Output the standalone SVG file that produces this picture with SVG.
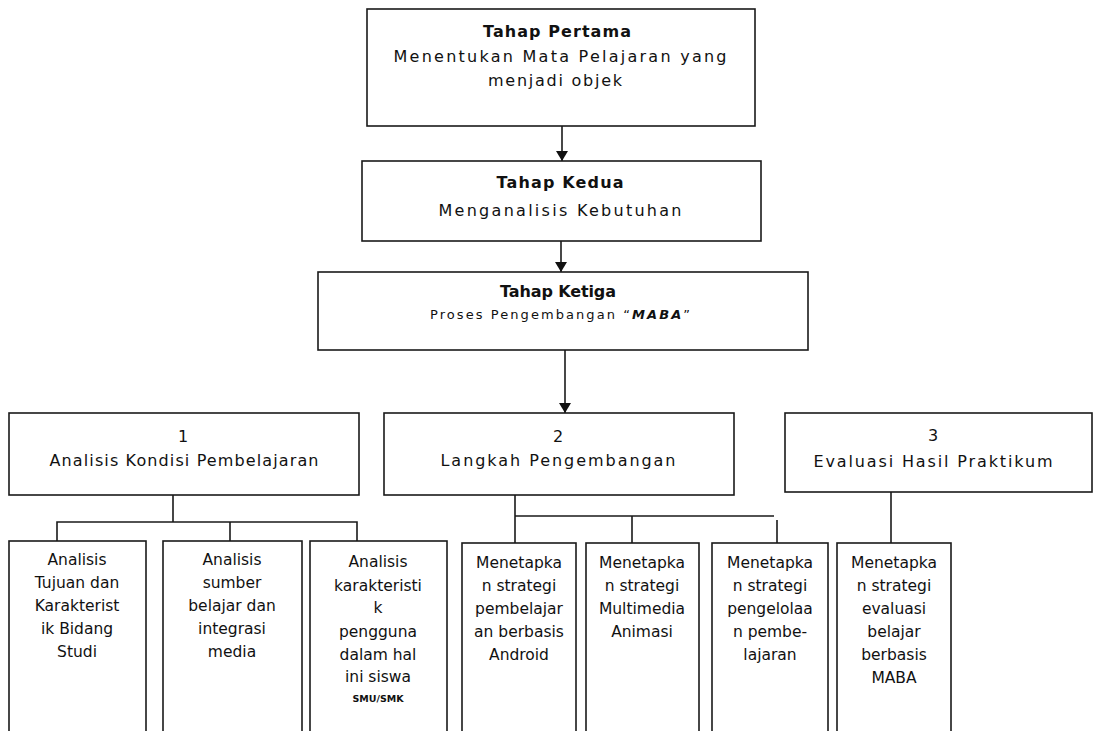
<svg xmlns="http://www.w3.org/2000/svg" width="1102" height="731" viewBox="0 0 1102 731">
<style>
.box{fill:#fff;stroke:#1a1a1a;stroke-width:1.6}
.ln{fill:none;stroke:#1a1a1a;stroke-width:1.6}
text{font-family:"DejaVu Sans","Liberation Sans",Arial,sans-serif;fill:#111;text-anchor:middle}
.h{font-size:16px;font-weight:bold}
.t{font-size:16px}
.s{font-size:13px}
.b{font-size:15.5px}
.sm{font-size:9.5px;font-weight:bold}
</style>
<defs>
<marker id="ah" markerUnits="userSpaceOnUse" markerWidth="12" markerHeight="12" refX="10" refY="6" orient="auto">
<path d="M0,0 L10,6 L0,12 z" fill="#111"/>
</marker>
</defs>
<rect width="1102" height="731" fill="#fff"/>
<g id="connectors">
<line class="ln" x1="562" y1="126" x2="562" y2="161" marker-end="url(#ah)"/>
<line class="ln" x1="561" y1="241" x2="561" y2="272" marker-end="url(#ah)"/>
<line class="ln" x1="565" y1="350" x2="565" y2="413" marker-end="url(#ah)"/>
<path class="ln" d="M173,495 V522 M57,541 V522 H357 V541 M230,522 V541"/>
<path class="ln" d="M515,495 V543 M515,516 H774 M632,516 V543 M777,520 V543"/>
<path class="ln" d="M891,492 V543"/>
</g>
<g id="tahap1">
<rect class="box" x="367" y="9" width="388" height="117"/>
<text class="h" x="557" y="37" textLength="148">Tahap  Pertama</text>
<text class="t" x="560" y="62" textLength="333">Menentukan Mata Pelajaran yang</text>
<text class="t" x="555" y="86" textLength="134">menjadi objek</text>
</g>
<g id="tahap2">
<rect class="box" x="362" y="161" width="399" height="80"/>
<text class="h" x="560" y="188" textLength="127">Tahap  Kedua</text>
<text class="t" x="560" y="216" textLength="243">Menganalisis Kebutuhan</text>
</g>
<g id="tahap3">
<rect class="box" x="318" y="272" width="490" height="78"/>
<text class="h" x="558" y="297" textLength="116">Tahap Ketiga</text>
<text class="s" x="560" y="319" textLength="260">Proses Pengembangan “<tspan font-weight="bold" font-style="italic">MABA</tspan>”</text>
</g>
<g id="step1">
<rect class="box" x="9" y="413" width="350" height="82"/>
<text class="t" x="183" y="442">1</text>
<text class="t" x="184" y="466" textLength="269">Analisis Kondisi Pembelajaran</text>
</g>
<g id="step2">
<rect class="box" x="384" y="413" width="350" height="82"/>
<text class="t" x="558" y="442">2</text>
<text class="t" x="558" y="466" textLength="235">Langkah Pengembangan</text>
</g>
<g id="step3">
<rect class="box" x="785" y="413" width="307" height="79"/>
<text class="t" x="933" y="441">3</text>
<text class="t" x="933" y="467" textLength="239">Evaluasi Hasil Praktikum</text>
</g>
<g id="a1">
<rect class="box" x="9" y="541" width="137" height="210"/>
<text class="b" x="77" y="565">Analisis</text>
<text class="b" x="77" y="588">Tujuan dan</text>
<text class="b" x="77" y="611">Karakterist</text>
<text class="b" x="77" y="634">ik Bidang</text>
<text class="b" x="77" y="657">Studi</text>
</g>
<g id="a2">
<rect class="box" x="163" y="541" width="139" height="210"/>
<text class="b" x="232" y="565">Analisis</text>
<text class="b" x="232" y="588">sumber</text>
<text class="b" x="232" y="611">belajar dan</text>
<text class="b" x="232" y="634">integrasi</text>
<text class="b" x="232" y="657">media</text>
</g>
<g id="a3">
<rect class="box" x="310" y="541" width="137" height="210"/>
<text class="b" x="378" y="567">Analisis</text>
<text class="b" x="378" y="591">karakteristi</text>
<text class="b" x="378" y="613">k</text>
<text class="b" x="378" y="637">pengguna</text>
<text class="b" x="378" y="660">dalam hal</text>
<text class="b" x="378" y="682">ini siswa</text>
<text class="sm" x="378" y="702">SMU/SMK</text>
</g>
<g id="m1">
<rect class="box" x="462" y="543" width="114" height="210"/>
<text class="b" x="519" y="568">Menetapka</text>
<text class="b" x="519" y="591">n  strategi</text>
<text class="b" x="519" y="614">pembelajar</text>
<text class="b" x="519" y="637">an berbasis</text>
<text class="b" x="519" y="660">Android</text>
</g>
<g id="m2">
<rect class="box" x="586" y="543" width="113" height="210"/>
<text class="b" x="642" y="568">Menetapka</text>
<text class="b" x="642" y="591">n  strategi</text>
<text class="b" x="642" y="614">Multimedia</text>
<text class="b" x="642" y="637">Animasi</text>
</g>
<g id="m3">
<rect class="box" x="712" y="543" width="116" height="210"/>
<text class="b" x="770" y="568">Menetapka</text>
<text class="b" x="770" y="591">n  strategi</text>
<text class="b" x="770" y="614">pengelolaa</text>
<text class="b" x="770" y="637">n pembe-</text>
<text class="b" x="770" y="660">lajaran</text>
</g>
<g id="m4">
<rect class="box" x="837" y="543" width="114" height="210"/>
<text class="b" x="894" y="568">Menetapka</text>
<text class="b" x="894" y="591">n  strategi</text>
<text class="b" x="894" y="614">evaluasi</text>
<text class="b" x="894" y="637">belajar</text>
<text class="b" x="894" y="660">berbasis</text>
<text class="b" x="894" y="683">MABA</text>
</g>
</svg>
